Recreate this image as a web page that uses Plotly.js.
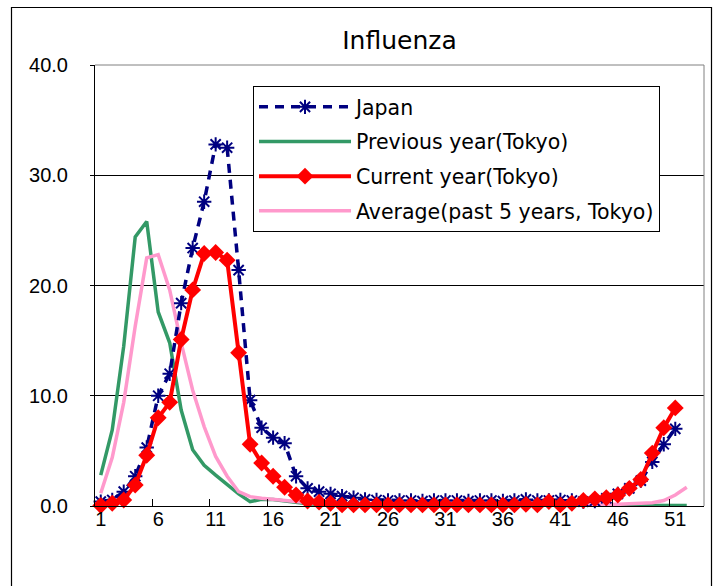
<!DOCTYPE html>
<html>
<head>
<meta charset="utf-8">
<script src="https://cdn.plot.ly/plotly-3.0.1.min.js"></script>
<style>
html,body{margin:0;padding:0;background:#fff;}
#chart{width:721px;height:586px;}
</style>
</head>
<body>
<div id="chart"></div>
<script>
const weeks = [1,2,3,4,5,6,7,8,9,10,11,12,13,14,15,16,17,18,19,20,21,22,23,24,25,26,27,28,29,30,31,32,33,34,35,36,37,38,39,40,41,42,43,44,45,46,47,48,49,50,51,52,53];
const tickLabels = ['1','6','11','16','21','26','31','36','41','46','51'];

const japan = [0.4,0.55,1.3,2.7,5.3,10.0,12.0,18.4,23.4,27.6,
  32.8,32.5,21.4,9.6,7.1,6.2,5.7,2.7,1.6,1.3,
  1.1,0.9,0.75,0.6,0.55,0.5,0.5,0.5,0.45,0.5,
  0.5,0.5,0.45,0.5,0.5,0.45,0.5,0.6,0.5,0.5,
  0.55,0.5,0.4,0.45,0.7,1.1,1.6,2.3,4.0,5.6,7.0];

const previousYear = [2.8,6.9,14.5,24.4,25.8,17.6,14.8,8.7,5.1,3.7,
  2.8,1.9,1.1,0.4,0.6,0.6,0.45,0.3,0.2,0.15,
  0.1,0.1,0.1,0.1,0.1,0.1,0.1,0.1,0.1,0.1,
  0.1,0.1,0.1,0.1,0.1,0.1,0.1,0.1,0.1,0.1,
  0.1,0.1,0.1,0.1,0.1,0.1,0.1,0.1,0.1,0.05,0.05,0.05];

const currentYear = [0.05,0.25,0.55,1.9,4.6,8.0,9.4,15.1,19.6,22.9,
  23.0,22.3,13.9,5.6,3.9,2.7,1.7,1.0,0.45,0.35,
  0.25,0.1,0.1,0.1,0.1,0.1,0.1,0.1,0.1,0.1,
  0.1,0.1,0.1,0.1,0.1,0.1,0.1,0.15,0.1,0.4,
  0.1,0.25,0.5,0.65,0.75,1.0,1.6,2.4,4.8,7.1,8.9];

const average5y = [1.15,4.4,9.4,16.3,22.5,22.8,19.6,14.8,10.5,7.2,
  4.5,2.7,1.3,0.85,0.7,0.6,0.45,0.35,0.25,0.2,
  0.2,0.15,0.15,0.15,0.15,0.1,0.1,0.1,0.1,0.1,
  0.1,0.1,0.1,0.1,0.1,0.1,0.1,0.1,0.1,0.1,
  0.1,0.1,0.1,0.1,0.15,0.15,0.2,0.25,0.3,0.5,1.0,1.7];

const seriesNames = ['Japan','Previous year(Tokyo)','Current year(Tokyo)','Average(past 5 years, Tokyo)'];

const FONT = 'DejaVu Sans, sans-serif';
const tickVals = tickLabels.map(Number);
const minorVals = tickVals.slice(1).map(v => v - 0.5);

const traces = [
  {x: weeks.slice(0, previousYear.length), y: previousYear, name: seriesNames[1], type: 'scatter', mode: 'lines',
   line: {color: '#339966', width: 3.5}, legendrank: 2, legendgroup: 'b', cliponaxis: false},
  {x: weeks.slice(0, average5y.length), y: average5y, name: seriesNames[3], type: 'scatter', mode: 'lines',
   line: {color: '#FF99CC', width: 3.5}, legendrank: 4, legendgroup: 'd', cliponaxis: false},
  {x: weeks.slice(0, japan.length), y: japan, name: seriesNames[0], type: 'scatter', mode: 'lines+markers',
   line: {color: '#000080', width: 3.5, dash: '9px,7px'},
   marker: {symbol: 'asterisk-open', size: 12, color: '#000080', line: {color: '#000080', width: 2}},
   legendrank: 1, legendgroup: 'a', cliponaxis: false},
  {x: weeks.slice(0, currentYear.length), y: currentYear, name: seriesNames[2], type: 'scatter', mode: 'lines+markers',
   line: {color: '#FF0000', width: 4},
   marker: {symbol: 'diamond', size: 13, color: '#FF0000'},
   legendrank: 3, legendgroup: 'c', cliponaxis: false}
];

const L = 95, R = 704, T = 65, B = 506, W = 721, H = 586;
const px2x = p => (p - L) / (R - L);
const px2y = p => (B - p) / (B - T);

const layout = {
  width: W, height: H,
  margin: {l: L, r: W - R, t: T, b: H - B, pad: 0},
  paper_bgcolor: '#fff', plot_bgcolor: '#fff',
  showlegend: true,
  title: {text: 'Influenza', font: {family: FONT, size: 25, color: '#000'},
          x: 0.5, xref: 'paper', xanchor: 'center', y: 1 - 40 / H, yref: 'container', yanchor: 'middle'},
  xaxis: {
    range: [0.5, 53.5], tickvals: tickVals, ticktext: tickLabels, ticks: '',
    showgrid: false, zeroline: false, showline: true, linecolor: '#000', linewidth: 1,
    tickfont: {family: 'Liberation Sans, sans-serif', size: 20, color: '#000'}, ticklabelstandoff: -5,
    minor: {tickvals: minorVals, ticks: 'inside', ticklen: 7, tickcolor: '#000', tickwidth: 1, showgrid: false}
  },
  yaxis: {
    range: [0, 40], tickvals: [0, 10, 20, 30, 40], tickformat: '.1f',
    showgrid: true, gridcolor: '#000', gridwidth: 1, zeroline: false,
    showline: true, linecolor: '#000', linewidth: 1, ticks: 'outside', ticklen: 4, tickcolor: '#000',
    tickfont: {family: 'Liberation Sans, sans-serif', size: 20, color: '#000'}, ticklabelstandoff: 18
  },
  legend: {
    x: px2x(253), y: px2y(86), xanchor: 'left', yanchor: 'top',
    bgcolor: '#fff', bordercolor: '#000', borderwidth: 1,
    font: {family: FONT, size: 20.5, color: '#000'},
    traceorder: 'grouped', tracegroupgap: 5, itemwidth: 92
  },
  shapes: [
    {type: 'path', xref: 'paper', yref: 'paper', layer: 'above',
     path: `M0,1 L1,1 L1,0`, line: {color: '#808080', width: 1}},
    {type: 'path', xref: 'paper', yref: 'paper', layer: 'above',
     path: `M${px2x(11.5)},${px2y(600)} L${px2x(11.5)},${px2y(7.5)} L${px2x(711.5)},${px2y(7.5)} L${px2x(711.5)},${px2y(600)}`,
     line: {color: '#000', width: 1.2}}
  ]
};

Plotly.newPlot('chart', traces, layout, {displayModeBar: false, staticPlot: true});
</script>
</body>
</html>
